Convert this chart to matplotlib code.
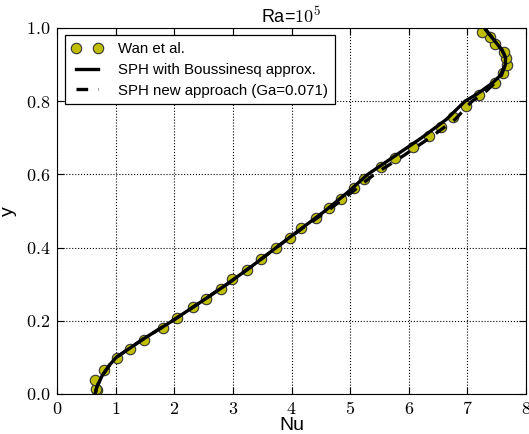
import numpy as np
import matplotlib
matplotlib.use("Agg")
import matplotlib.pyplot as plt
from matplotlib.ticker import FuncFormatter

plt.rcParams['mathtext.fontset'] = 'cm'
plt.rcParams['font.family'] = ['Liberation Sans', 'DejaVu Sans']

# Wan et al. reference points
wan_nu = [0.68, 0.66, 0.65, 0.80, 1.02, 1.25, 1.49, 1.80, 2.05, 2.32, 2.54, 2.79, 2.98,
          3.24, 3.48, 3.73, 3.98, 4.16, 4.41, 4.64, 4.85, 5.07, 5.23, 5.53, 5.77, 6.08,
          6.35, 6.55, 6.76, 6.98, 7.20, 7.47, 7.60, 7.67, 7.66, 7.62, 7.47, 7.38, 7.25]
wan_y = [0.011, 0.014, 0.038, 0.066, 0.099, 0.123, 0.148, 0.180, 0.208, 0.239, 0.260,
         0.286, 0.313, 0.339, 0.368, 0.398, 0.425, 0.454, 0.482, 0.507, 0.533, 0.562,
         0.587, 0.619, 0.644, 0.676, 0.705, 0.730, 0.758, 0.787, 0.817, 0.851, 0.876,
         0.899, 0.917, 0.935, 0.956, 0.975, 0.990]

# SPH curves
sph_y = [0.0, 0.02, 0.05, 0.08, 0.1, 0.15, 0.2, 0.25, 0.3, 0.35, 0.4, 0.45, 0.5, 0.55,
         0.6, 0.65, 0.7, 0.75, 0.8, 0.82, 0.85, 0.87, 0.9, 0.92, 0.94, 0.96, 0.98, 1.0]
boussinesq_nu = [0.65, 0.68, 0.77, 0.90, 1.01, 1.47, 1.97, 2.44, 2.90, 3.33, 3.74, 4.15,
                 4.57, 4.95, 5.30, 5.76, 6.22, 6.64, 6.96, 7.17, 7.43, 7.56, 7.65, 7.65,
                 7.59, 7.49, 7.39, 7.29]
new_nu = [0.65, 0.68, 0.77, 0.90, 1.01, 1.47, 1.97, 2.44, 2.90, 3.33, 3.74, 4.16,
          4.61, 5.02, 5.41, 5.90, 6.36, 6.79, 7.08, 7.27, 7.47, 7.58, 7.65, 7.65,
          7.59, 7.49, 7.39, 7.29]

fig = plt.figure(figsize=(5.29, 4.34), dpi=100)
ax = fig.add_axes([0.1078, 0.0922, 0.8865, 0.8433])

ax.plot(wan_nu, wan_y, 'o', color=(0.75, 0.75, 0.0), mec='#333333', mew=0.8, ms=7.5,
        label='Wan et al.', zorder=2)
ax.plot(boussinesq_nu, sph_y, '-', color='k', lw=2.4, label='SPH with Boussinesq approx.', zorder=3)
ax.plot(new_nu, sph_y, '--', color='k', lw=2.4, dashes=(3.5, 3),
        label='SPH new approach (Ga=0.071)', zorder=3)

ax.set_xlim(0, 8)
ax.set_ylim(0, 1)
ax.set_xticks(np.arange(0, 9, 1))
ax.set_yticks(np.arange(0, 1.01, 0.2))
ax.xaxis.set_major_formatter(FuncFormatter(lambda v, p: r'$%d$' % v))
ax.yaxis.set_major_formatter(FuncFormatter(lambda v, p: r'$%.1f$' % v))
ax.tick_params(direction='in', top=True, right=True, labelsize=13, length=5, pad=5)
ax.grid(True, color='k', linestyle=':', linewidth=0.8)
ax.set_axisbelow(True)

ax.set_xlabel('Nu', fontsize=14, labelpad=-1)
ax.set_ylabel('y', fontsize=14, labelpad=6)
ax.set_title(r'Ra=$10^5$', fontsize=13, pad=4)

leg = ax.legend(loc='upper left', numpoints=2, fontsize=10.8, fancybox=False,
                edgecolor='k', framealpha=1, handlelength=2.1, handletextpad=1.0,
                borderpad=0.45, labelspacing=0.45, borderaxespad=0.5)
leg.get_frame().set_linewidth(0.9)

fig.savefig('out.png', dpi=100)
